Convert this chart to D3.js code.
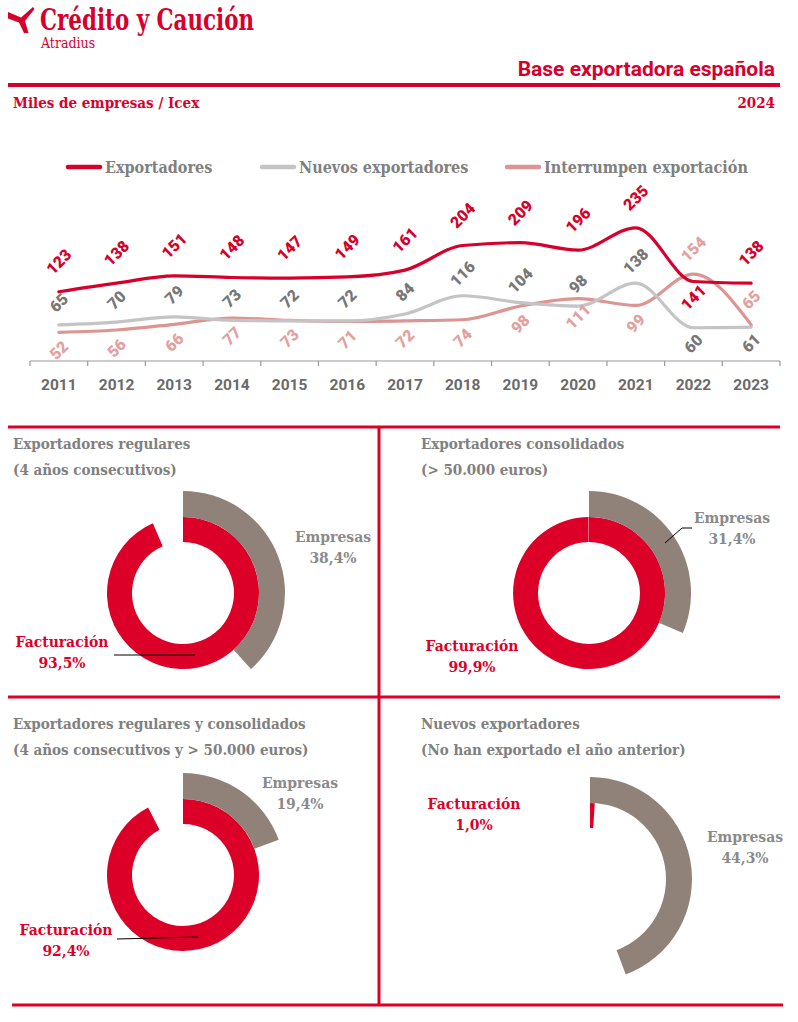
<!DOCTYPE html>
<html><head><meta charset="utf-8">
<script src="https://cdn.jsdelivr.net/npm/d3@7"></script>
<style>
body{margin:0;background:#fff;}
svg{display:block;}
.serif{font-family:"DejaVu Serif Condensed","DejaVu Serif",serif;font-stretch:condensed;font-weight:bold;}
.sans{font-family:Roboto,"Open Sans",sans-serif;font-weight:bold;}
</style></head>
<body>
<svg id="c" width="798" height="1022"></svg>
<script>
// ---------- DATA ----------
const years = ["2011","2012","2013","2014","2015","2016","2017","2018","2019","2020","2021","2022","2023"];
const exportadores = [123,138,151,148,147,149,161,204,209,196,235,141,138];
const nuevos = [65,70,79,73,72,72,84,116,104,98,138,60,61];
const interrumpen = [52,56,66,77,73,71,72,74,98,111,99,154,65];
const seriesNames = ["Exportadores","Nuevos exportadores","Interrumpen exportación"];
// labels drawn on the opposite side of the default
const flipped = [["Exportadores","2022"],["Nuevos exportadores","2022"],["Nuevos exportadores","2023"],["Interrumpen exportación","2022"],["Interrumpen exportación","2023"]];

const panelTitles = ["Exportadores regulares","Exportadores consolidados","Exportadores regulares y consolidados","Nuevos exportadores"];
const panelSubtitles = ["(4 años consecutivos)","(> 50.000 euros)","(4 años consecutivos y > 50.000 euros)","(No han exportado el año anterior)"];
const facturacion = [93.5, 99.9, 92.4, 1.0];
const empresas = [38.4, 31.4, 19.4, 44.3];

// ---------- STYLE ----------
const RED = "#d7002c", GRAYLINE = "#c4c4c4", PINK = "#db9593";
const DRED = "#dc0029", DGRAY = "#908279", TGRAY = "#808080";
const lineColors = [RED, GRAYLINE, PINK];
const labelColors = [RED, "#777777", "#e3a19e"];

const svg = d3.select("#c");
const fmt = v => d3.format(".1f")(v).replace(".", ",") + "%";

// ---------- HEADER ----------
svg.append("path").attr("d","M8,12 L21,17.5 L33,7 L34.5,9 L25,21 L28.5,33 L24,33 L19,22.5 L8,18.5 Z").attr("fill",RED);
svg.append("text").attr("class","serif").attr("x",40).attr("y",30).attr("font-size",29).attr("fill",RED)
  .attr("textLength",214).attr("lengthAdjust","spacingAndGlyphs").text("Crédito y Caución");
svg.append("text").attr("x",41).attr("y",48).attr("font-size",14).attr("fill",RED)
  .attr("font-family","DejaVu Serif, serif").attr("font-stretch","condensed").text("Atradius");
svg.append("text").attr("class","sans").attr("x",775).attr("y",76).attr("text-anchor","end").attr("font-size",21).attr("fill",RED).text("Base exportadora española");
svg.append("rect").attr("x",8).attr("y",83).attr("width",772).attr("height",4).attr("fill",RED);
svg.append("text").attr("class","serif").attr("x",13).attr("y",108).attr("font-size",15).attr("fill",RED).text("Miles de empresas / Icex");
svg.append("text").attr("class","serif").attr("x",775).attr("y",108).attr("text-anchor","end").attr("font-size",15).attr("fill",RED).text("2024");

// ---------- LEGEND ----------
const legX = [68, 262, 507];
seriesNames.forEach((n,i)=>{
  svg.append("line").attr("x1",legX[i]).attr("x2",legX[i]+32).attr("y1",167).attr("y2",167)
    .attr("stroke",lineColors[i]).attr("stroke-width",4.5).attr("stroke-linecap","round");
  svg.append("text").attr("class","serif").attr("x",legX[i]+37).attr("y",173).attr("font-size",16).attr("fill",TGRAY).text(n);
});

// ---------- LINE CHART ----------
const x = d3.scaleBand().domain(years).range([30,780]).padding(0);
const y = d3.scaleLinear().domain([0,250]).range([362, 362-250*0.571]);
const xc = d => x(d) + x.bandwidth()/2;

const axisG = svg.append("g").attr("transform","translate(0,361)");
axisG.append("line").attr("x1",30).attr("x2",780).attr("stroke","#999").attr("stroke-width",1.2);
axisG.selectAll("line.t").data(years.concat(["end"])).join("line").attr("class","t")
  .attr("x1",(d,i)=>30+i*x.bandwidth()).attr("x2",(d,i)=>30+i*x.bandwidth()).attr("y1",0).attr("y2",5)
  .attr("stroke","#999").attr("stroke-width",1.2);
axisG.selectAll("text").data(years).join("text").attr("class","sans")
  .attr("x",d=>xc(d)).attr("y",29).attr("text-anchor","middle").attr("font-size",15.5).attr("fill","#6a6a6a").text(d=>d);

const allSeries = [exportadores, nuevos, interrumpen];
const line = d3.line().x((d,i)=>xc(years[i])).y(d=>y(d)).curve(d3.curveMonotoneX);
// draw order: pink, gray, red
[2,1,0].forEach(si=>{
  svg.append("path").datum(allSeries[si]).attr("d",line).attr("fill","none")
    .attr("stroke",lineColors[si]).attr("stroke-width",3.2).attr("stroke-linecap","round");
});

// default label side: red & gray above, pink below
const defAbove = [true, true, false];
const offAbove = [-30, -22, -25];
const offBelow = [16, 16, 18];
allSeries.forEach((vals,si)=>{
  vals.forEach((v,i)=>{
    const isFlip = flipped.some(f=>f[0]===seriesNames[si] && f[1]===years[i]);
    const above = isFlip ? !defAbove[si] : defAbove[si];
    const cx = xc(years[i]), cy = y(v) + (above ? offAbove[si] : offBelow[si]);
    svg.append("text").attr("font-family","Roboto, 'Open Sans', sans-serif").attr("font-weight",900)
      .attr("font-size",16).attr("fill",labelColors[si])
      .attr("text-anchor","middle").attr("dominant-baseline","central")
      .attr("transform",`translate(${cx},${cy}) rotate(-45)`).text(v);
  });
});

// ---------- PANEL FRAME ----------
svg.append("rect").attr("x",8).attr("y",425.5).attr("width",772).attr("height",3).attr("fill",DRED);
svg.append("rect").attr("x",8).attr("y",695.5).attr("width",772).attr("height",3).attr("fill",DRED);
svg.append("rect").attr("x",12).attr("y",1003.5).attr("width",771).attr("height",3).attr("fill",DRED);
svg.append("rect").attr("x",377.5).attr("y",427).attr("width",3).attr("height",578).attr("fill",DRED);

// ---------- DONUTS ----------
const panelX = [13, 421, 13, 421];
const panelY = [449, 449, 729, 729];
const centers = [[183,593],[589,593],[183,875],[590,879]];
const factLab = [[62,647],[472,651],[66,935],[474,809]];
const empLab = [[333,542],[732,523],[300,788],[745,842]];
const leaders = [
  [[114,655],[195,655]],
  null,
  [[117,939],[198,937]],
  null
];
const empLeaders = [null, [[665,543],[682,528],[692,528]], null, null];

const arcRed = d3.arc().innerRadius(51).outerRadius(76);
const arcGray = d3.arc().innerRadius(76).outerRadius(102);

panelTitles.forEach((t,i)=>{
  svg.append("text").attr("class","serif").attr("x",panelX[i]).attr("y",panelY[i]).attr("font-size",15).attr("fill",TGRAY).text(t);
  svg.append("text").attr("class","serif").attr("x",panelX[i]).attr("y",panelY[i]+26).attr("font-size",15).attr("fill",TGRAY).text(panelSubtitles[i]);
  const g = svg.append("g").attr("transform",`translate(${centers[i][0]},${centers[i][1]})`);
  g.append("path").attr("d",arcRed({startAngle:0,endAngle:facturacion[i]/100*2*Math.PI})).attr("fill",DRED);
  g.append("path").attr("d",arcGray({startAngle:0,endAngle:empresas[i]/100*2*Math.PI})).attr("fill",DGRAY);
  // labels
  const fl = svg.append("text").attr("class","serif").attr("font-size",15.5).attr("fill",DRED).attr("text-anchor","middle");
  fl.append("tspan").attr("x",factLab[i][0]).attr("y",factLab[i][1]).text("Facturación");
  fl.append("tspan").attr("x",factLab[i][0]).attr("y",factLab[i][1]+21).text(fmt(facturacion[i]));
  const el = svg.append("text").attr("class","serif").attr("font-size",15.5).attr("fill","#8a8a8a").attr("text-anchor","middle");
  el.append("tspan").attr("x",empLab[i][0]).attr("y",empLab[i][1]).text("Empresas");
  el.append("tspan").attr("x",empLab[i][0]).attr("y",empLab[i][1]+21).text(fmt(empresas[i]));
  if(leaders[i]) svg.append("path").attr("d",d3.line()(leaders[i])).attr("stroke","#000").attr("stroke-width",1).attr("fill","none");
  if(empLeaders[i]) svg.append("path").attr("d",d3.line()(empLeaders[i])).attr("stroke","#000").attr("stroke-width",1).attr("fill","none");
});
</script>
</body></html>
